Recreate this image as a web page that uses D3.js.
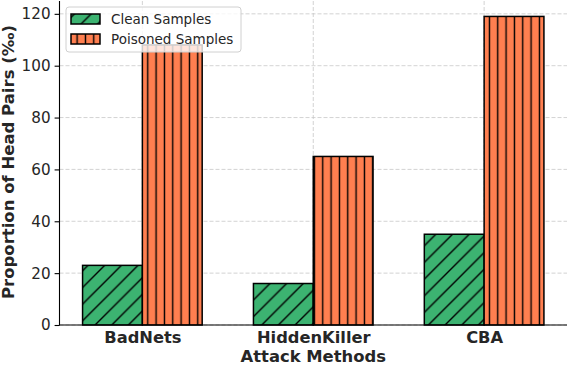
<!DOCTYPE html>
<html>
<head>
<meta charset="utf-8">
<script src="https://cdn.jsdelivr.net/npm/d3@7"></script>
<style>
  html, body { margin: 0; padding: 0; background: #fff; }
  svg { display: block; font-family: "DejaVu Sans", sans-serif; }
</style>
</head>
<body>
<svg id="chart" width="570" height="366"></svg>
<script>
// ---- data ----
const categories = ["BadNets", "HiddenKiller", "CBA"];
const cleanValues = [23, 16, 35];
const poisonedValues = [108, 65, 119];
const seriesNames = ["Clean Samples", "Poisoned Samples"];
const yTicks = [0, 20, 40, 60, 80, 100, 120];

// ---- layout ----
const plotL = 59.5, plotR = 567, plotT = 1, plotB = 325;
const barW = 0.35;

const svg = d3.select("#chart");

const x = d3.scaleLinear().domain([-0.485, categories.length - 1 + 0.485]).range([plotL, plotR]);
const y = d3.scaleLinear().domain([0, 124.95]).range([plotB, plotT]);

// ---- patterns ----
const defs = svg.append("defs");
const dS = 16.667;
const pDiag = defs.append("pattern")
  .attr("id", "hatchDiag").attr("patternUnits", "userSpaceOnUse")
  .attr("width", dS).attr("height", dS).attr("x", 0).attr("y", 3.4);
pDiag.append("rect").attr("width", dS).attr("height", dS).attr("fill", "#3CB371");
[[-1, dS + 1, dS + 1, -1], [-1, 1, 1, -1], [dS - 1, dS + 1, dS + 1, dS - 1]].forEach(s => {
  pDiag.append("line").attr("x1", s[0]).attr("y1", s[1]).attr("x2", s[2]).attr("y2", s[3])
    .attr("stroke", "#000").attr("stroke-width", 1.4);
});
const vS = 8.333;
const pVert = defs.append("pattern")
  .attr("id", "hatchVert").attr("patternUnits", "userSpaceOnUse")
  .attr("width", vS).attr("height", 20).attr("x", 6.1 - vS / 2).attr("y", 0);
pVert.append("rect").attr("width", vS).attr("height", 20).attr("fill", "#FF7F50");
pVert.append("line").attr("x1", vS / 2).attr("x2", vS / 2).attr("y1", -1).attr("y2", 21)
  .attr("stroke", "#000").attr("stroke-width", 1.4);

// ---- grid ----
const grid = svg.append("g");
grid.selectAll("line.h").data(yTicks).join("line")
  .attr("x1", plotL).attr("x2", plotR)
  .attr("y1", d => y(d)).attr("y2", d => y(d))
  .attr("stroke", "#c8c8c8").attr("stroke-width", 0.8).attr("stroke-dasharray", "4,2");
grid.selectAll("line.v").data(categories.map((c, i) => i)).join("line")
  .attr("x1", d => x(d)).attr("x2", d => x(d))
  .attr("y1", plotT).attr("y2", plotB)
  .attr("stroke", "#c8c8c8").attr("stroke-width", 0.8).attr("stroke-dasharray", "4,2");

// ---- bars ----
const bars = svg.append("g");
bars.selectAll("rect.clean").data(cleanValues).join("rect")
  .attr("x", (d, i) => x(i - barW))
  .attr("width", (d, i) => x(i) - x(i - barW))
  .attr("y", d => y(d)).attr("height", d => y(0) - y(d))
  .attr("fill", "url(#hatchDiag)").attr("stroke", "#000").attr("stroke-width", 1.5);
bars.selectAll("rect.pois").data(poisonedValues).join("rect")
  .attr("x", (d, i) => x(i))
  .attr("width", (d, i) => x(i + barW) - x(i))
  .attr("y", d => y(d)).attr("height", d => y(0) - y(d))
  .attr("fill", "url(#hatchVert)").attr("stroke", "#000").attr("stroke-width", 1.5);

// ---- axes ----
const yAxis = svg.append("g").attr("transform", `translate(${plotL},0)`)
  .call(d3.axisLeft(y).tickValues(yTicks).tickSize(4.9).tickPadding(4).tickFormat(d3.format("d")));
yAxis.select(".domain").remove();
yAxis.selectAll(".tick line").attr("stroke", "#000").attr("stroke-width", 1.1);
yAxis.selectAll(".tick text").attr("font-size", "15.2px").attr("fill", "#262626")
  .attr("font-family", "DejaVu Sans");

const xAxis = svg.append("g").attr("transform", `translate(0,${plotB})`)
  .call(d3.axisBottom(x).tickValues(categories.map((c, i) => i)).tickSize(0).tickPadding(6)
    .tickFormat((d) => categories[d]));
xAxis.select(".domain").remove();
xAxis.selectAll(".tick text").attr("font-size", "16.3px").attr("font-weight", "bold")
  .attr("fill", "#262626").attr("font-family", "DejaVu Sans");

// spines
svg.append("line").attr("x1", plotL).attr("x2", plotL).attr("y1", plotT).attr("y2", plotB + 0.5)
  .attr("stroke", "#000").attr("stroke-width", 1.1);
svg.append("line").attr("x1", plotL).attr("x2", plotR).attr("y1", plotB).attr("y2", plotB)
  .attr("stroke", "#000").attr("stroke-width", 1.1);

// axis labels
svg.append("text").attr("x", (plotL + plotR) / 2).attr("y", 362)
  .attr("text-anchor", "middle").attr("font-size", "16.4px").attr("font-weight", "bold")
  .attr("fill", "#262626").text("Attack Methods");
svg.append("text").attr("transform", `translate(14,162) rotate(-90)`)
  .attr("text-anchor", "middle").attr("font-size", "16.5px").attr("font-weight", "bold")
  .attr("fill", "#262626").text("Proportion of Head Pairs (‰)");

// ---- legend ----
const lg = svg.append("g").attr("transform", "translate(66,7)");
lg.append("rect").attr("width", 175).attr("height", 45).attr("rx", 3)
  .attr("fill", "#fff").attr("fill-opacity", 0.8).attr("stroke", "#d0d0d0").attr("stroke-width", 1);
const items = [{ name: seriesNames[0], fill: "url(#hatchDiag)" }, { name: seriesNames[1], fill: "url(#hatchVert)" }];
const li = lg.selectAll("g.item").data(items).join("g")
  .attr("transform", (d, i) => `translate(5,${7 + i * 20})`);
li.append("rect").attr("width", 29).attr("height", 10).attr("y", 0)
  .attr("fill", d => d.fill).attr("stroke", "#000").attr("stroke-width", 1.5);
li.append("text").attr("x", 40).attr("y", 5).attr("dy", "0.35em")
  .attr("font-size", "13.5px").attr("fill", "#262626").text(d => d.name);
</script>
</body>
</html>
